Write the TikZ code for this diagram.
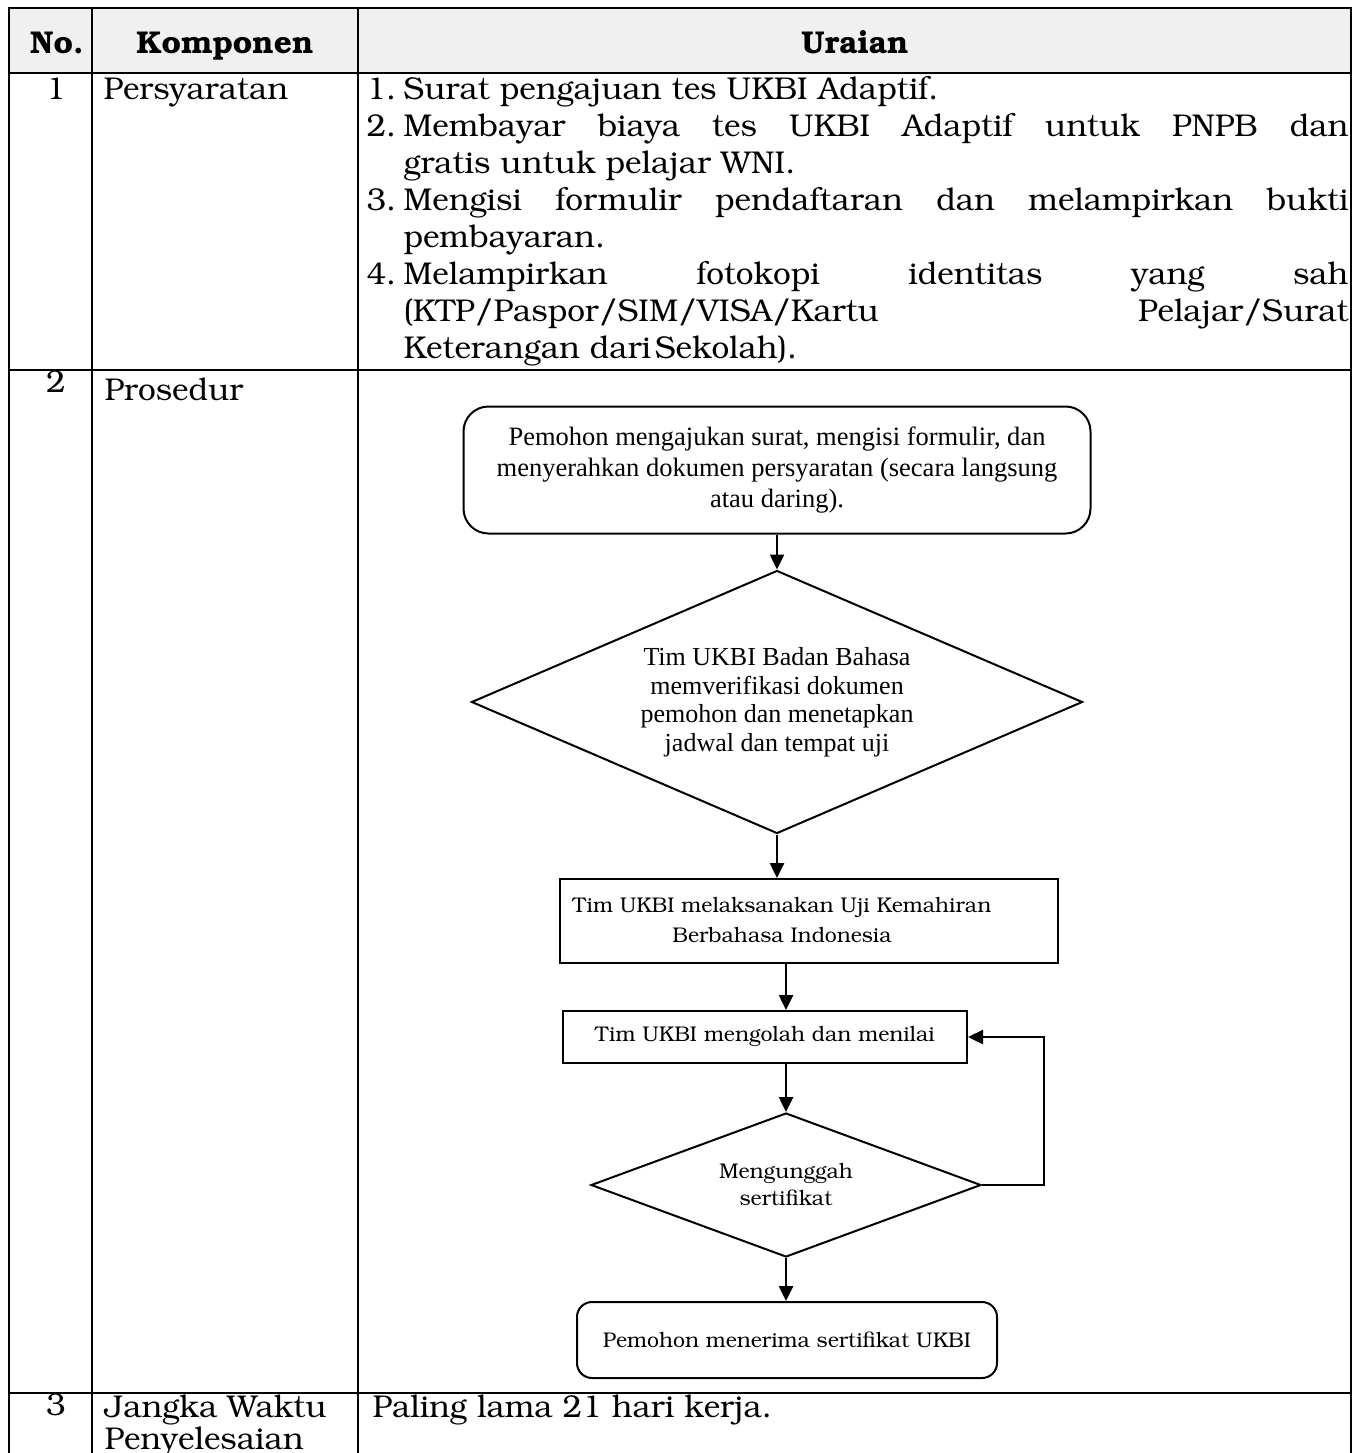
\documentclass[tikz,border=0pt]{standalone}
\usepackage[T1]{fontenc}
\usepackage{fontspec}
\setmainfont{Liberation Serif}
\usepackage{tikz}
\usetikzlibrary{
    shapes.geometric,
    arrows.meta,
    positioning,
    calc
}
\definecolor{Hgray}{RGB}{240, 240, 240}
\newcommand{\bkm}{\fontencoding{T1}\fontfamily{pbk}\selectfont}
\newlength{\uwid}
\setlength{\uwid}{378pt}
\newcommand{\jline}[1]{\makebox[\uwid][s]{#1}}
\newcommand{\nbox}[1]{\makebox[14.8pt][l]{#1}}
\tikzset{
    tcell/.style={anchor=base west, inner sep=0pt, font=\bkm\fontsize{12.6}{14.8}\selectfont},
    tnum/.style={anchor=base, inner sep=0pt, font=\bkm\fontsize{12.6}{14.8}\selectfont},
    thead/.style={anchor=base, inner sep=0pt, font=\bkm\bfseries\fontsize{12.6}{14.8}\selectfont},
    gthick/.style={line width=0.8pt},
    gthin/.style={line width=0.45pt},
    fstart/.style={
        rectangle, rounded corners=10pt, draw, line width=0.8pt,
        align=center, inner sep=0pt, font=\fontsize{10.6}{12.4}\selectfont
    },
    fdec/.style={
        diamond, draw, line width=0.8pt, align=center, inner sep=0pt
    },
    fproc/.style={
        rectangle, draw, line width=0.8pt, align=center, inner sep=0pt,
        font=\bkm\fontsize{8.5}{12}\selectfont
    },
    farr/.style={-{Triangle[length=6pt, width=5.6pt]}, line width=1pt},
}
\begin{document}
\begin{tikzpicture}[x=0.4pt, y=-0.4pt]
    \useasboundingbox (0,0) rectangle (1365,1453);
    \clip (0,0) rectangle (1365,1453);

    % ── tabel ─────────────────────────────────────────
    \fill [Hgray] (9,8) rectangle (1351,73);
    \draw [gthick] (9,1480) -- (9,8) -- (1351,8) -- (1351,1480);
    \draw [gthick] (9,73) -- (1351,73);
    \draw [gthin]  (9,370) -- (1351,370);
    \draw [gthick] (9,1393) -- (1351,1393);
    \draw [gthick] (92,8) -- (92,1480);
    \draw [gthin]  (358,8) -- (358,1480);

    \node [thead] (hno)   at (57,53)  {No.};
    \node [thead] (hkomp) at (225,53) {Komponen};
    \node [thead] (hura)  at (855,53) {Uraian};

    % ── baris 1: persyaratan ──────────────────────────
    \node [tnum]  (no1)   at (56,99)  {1};
    \node [tcell] (komp1) at (103,99) {Persyaratan};
    \node [tcell] (sy1) at (366,99)  {\nbox{1.}Surat pengajuan tes UKBI Adaptif.};
    \node [tcell] (sy2) at (366,136) {\nbox{2.}\jline{Membayar biaya tes UKBI Adaptif untuk PNPB dan}};
    \node [tcell] (sy3) at (366,173) {\nbox{}gratis untuk pelajar WNI.};
    \node [tcell] (sy4) at (366,210) {\nbox{3.}\jline{Mengisi formulir pendaftaran dan melampirkan bukti}};
    \node [tcell] (sy5) at (366,247) {\nbox{}pembayaran.};
    \node [tcell] (sy6) at (366,284) {\nbox{4.}\jline{Melampirkan fotokopi identitas yang sah}};
    \node [tcell] (sy7) at (366,321) {\nbox{}\jline{(KTP/Paspor/SIM/VISA/Kartu Pelajar/Surat}};
    \node [tcell] (sy8) at (366,358) {\nbox{}Keterangan dari\hspace{1.5pt}Sekolah).};

    % ── baris 2: prosedur ─────────────────────────────
    \node [tnum]  (no2)   at (56,392)  {2};
    \node [tcell] (komp2) at (104,400) {Prosedur};

    \node [fstart, minimum width=250.8pt, minimum height=50.8pt]
        (ajukan) at (777,470)
        {Pemohon mengajukan surat, mengisi formulir, dan\\
         menyerahkan dokumen persyaratan (secara langsung\\
         atau daring).};
    \node [fdec, minimum width=244.4pt, minimum height=105.2pt, aspect=2.3,
           font=\fontsize{10.4}{11.4}\selectfont]
        (verif) at (777,702)
        {Tim UKBI Badan Bahasa\\memverifikasi dokumen\\pemohon dan menetapkan\\jadwal dan tempat uji};
    \node [fproc, minimum width=199.2pt, minimum height=33.6pt]
        (uji) at (809,921)
        {\begin{tabular}{@{}c@{}}Tim UKBI melaksanakan Uji Kemahiran\\Berbahasa Indonesia\end{tabular}\hspace*{21.6pt}};
    \node [fproc, minimum width=161.6pt, minimum height=20.8pt]
        (olah) at (765,1037) {Tim UKBI mengolah dan menilai};
    \node [fdec, minimum width=156pt, minimum height=57.6pt, aspect=2.7,
           font=\bkm\fontsize{8.5}{10.8}\selectfont]
        (unggah) at (786,1185) {Mengunggah\\sertifikat};
    \node [fproc, rounded corners=6pt, minimum width=168pt, minimum height=30.4pt]
        (terima) at (787,1340) {Pemohon menerima sertifikat UKBI};

    % ── panah ─────────────────────────────────────────
    \draw [farr] (ajukan) -- (verif);
    \draw [farr] (verif.south) -- (verif.south |- uji.north);
    \draw [farr] (uji.south -| unggah.north) -- (olah.north -| unggah.north);
    \draw [farr] (olah.south -| unggah.north) -- (unggah.north);
    \draw [farr] (unggah.south) -- (unggah.south |- terima.north);
    \draw [farr] (unggah.east) -- ++(62,0) |- (olah.east);

    % ── baris 3: jangka waktu ─────────────────────────
    \node [tnum]  (no3)    at (56,1415)  {3};
    \node [tcell] (komp3)  at (104,1417) {Jangka Waktu};
    \node [tcell] (komp3b) at (104,1449) {Penyelesaian};
    \node [tcell] (waktu)  at (372,1417) {Paling lama 21 hari kerja.};

\end{tikzpicture}
\end{document}
